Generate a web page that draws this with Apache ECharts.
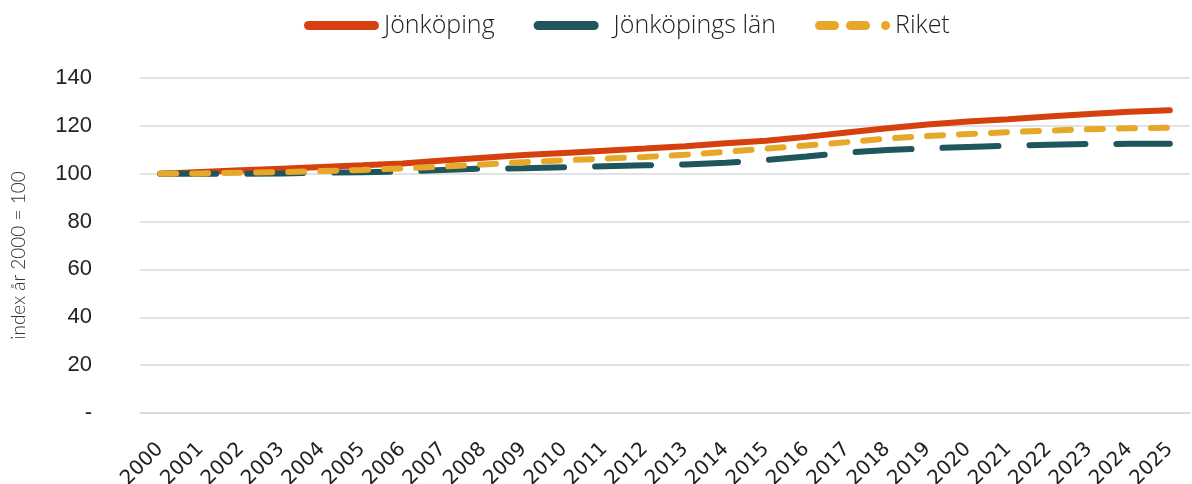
<!DOCTYPE html>
<html>
<head>
<meta charset="utf-8">
<script src="https://cdn.jsdelivr.net/npm/echarts@6/dist/echarts.min.js"></script>
<style>
html,body{margin:0;padding:0;background:#fff;}
#chart{width:1192px;height:484px;}
</style>
</head>
<body>
<div id="chart"></div>
<script>
const years = ['2000','2001','2002','2003','2004','2005','2006','2007','2008','2009','2010','2011','2012','2013','2014','2015','2016','2017','2018','2019','2020','2021','2022','2023','2024','2025'];
const jonkoping = [100,100.7,101.4,102.1,102.8,103.5,104.3,105.5,106.7,107.8,108.7,109.6,110.5,111.5,112.7,113.8,115.4,117.2,119.0,120.6,121.8,122.8,123.9,125.0,125.9,126.5];
const jonkopingsLan = [100,100,100,100.1,100.4,100.6,100.9,101.6,102.1,102.3,102.7,103.1,103.5,103.9,104.6,105.7,107.2,108.8,109.9,110.6,111.2,111.7,112.1,112.4,112.5,112.5];
const riket = [100,100.1,100.4,100.7,101.1,101.6,102.2,103.0,103.9,104.8,105.6,106.3,107.0,107.9,109.1,110.5,111.8,113.2,114.7,115.8,116.6,117.4,118.0,118.6,119.0,119.2];
const yTicks = [0,20,40,60,80,100,120,140];

const C_RED = '#D6400E', C_TEAL = '#1F555C', C_GOLD = '#E5A828';
// legend icons (75 x 9 box)
const iconSolid = 'path://M4.5,0 H70.5 A4.5,4.5 0 0 1 70.5,9 H4.5 A4.5,4.5 0 0 1 4.5,0 Z';
const iconTeal = 'path://M75,0 M4.5,0 H60.5 A4.5,4.5 0 0 1 60.5,9 H4.5 A4.5,4.5 0 0 1 4.5,0 Z';
const iconGold = 'path://M4.5,0 H19.5 A4.5,4.5 0 0 1 19.5,9 H4.5 A4.5,4.5 0 0 1 4.5,0 Z M35.5,0 H50.5 A4.5,4.5 0 0 1 50.5,9 H35.5 A4.5,4.5 0 0 1 35.5,0 Z M70.5,0 A4.5,4.5 0 0 1 70.5,9 A4.5,4.5 0 0 1 70.5,0 Z';

const chart = echarts.init(document.getElementById('chart'));
chart.setOption({
  animation:false,
  backgroundColor:'#fff',
  legend:{
    top:13,left:304,padding:0,
    itemWidth:75,itemHeight:9,itemGap:39,
    textStyle:{fontFamily:'Open Sans',fontWeight:300,fontSize:25,color:'#222'},
    data:[
      {name:'Jönköping',icon:iconSolid,itemStyle:{color:C_RED}},
      {name:'Jönköpings län',icon:iconTeal,itemStyle:{color:C_TEAL}},
      {name:'Riket',icon:iconGold,itemStyle:{color:C_GOLD}}
    ]
  },
  grid:{left:140,right:2,top:78,bottom:71,containLabel:false,outerBoundsMode:'none'},
  xAxis:{
    type:'category',data:years,boundaryGap:true,
    axisLine:{show:true,lineStyle:{color:'#d9d9d9',width:1.5}},
    axisTick:{show:false},
    axisLabel:{rotate:45,fontFamily:'DejaVu Sans',fontSize:20,color:'#222',margin:33,interval:0}
  },
  yAxis:{
    type:'value',min:yTicks[0],max:yTicks[yTicks.length-1],interval:20,
    name:'index år 2000 = 100',nameLocation:'middle',nameGap:112,
    nameTextStyle:{fontFamily:'Lato',fontWeight:300,fontSize:19,color:'#333',padding:[0,20,0,0]},
    axisLine:{show:false},axisTick:{show:false},
    splitLine:{lineStyle:{color:'#d9d9d9',width:1.5}},
    axisLabel:{fontFamily:'Liberation Sans',fontSize:22,color:'#222',margin:48,
      formatter:v=>v===0?'-':String(v)}
  },
  series:[
    {name:'Jönköping',type:'line',data:jonkoping,symbol:'none',
     lineStyle:{color:C_RED,width:6,cap:'round'},itemStyle:{color:C_RED}},
    {name:'Jönköpings län',type:'line',data:jonkopingsLan,symbol:'none',
     lineStyle:{color:C_TEAL,width:6,cap:'round',type:[56,31]},itemStyle:{color:C_TEAL}},
    {name:'Riket',type:'line',data:riket,symbol:'none',
     lineStyle:{color:C_GOLD,width:6,cap:'round',type:[16,16]},itemStyle:{color:C_GOLD}}
  ]
});
</script>
</body>
</html>
